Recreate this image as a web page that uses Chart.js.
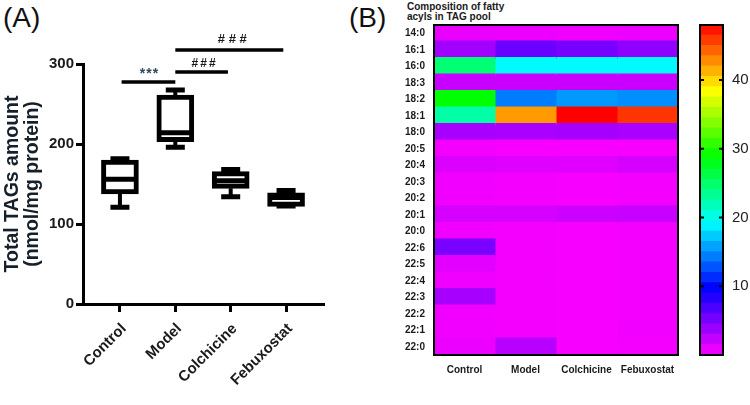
<!DOCTYPE html>
<html>
<head>
<meta charset="utf-8">
<script src="https://cdn.jsdelivr.net/npm/chart.js@4.4.1/dist/chart.umd.min.js"></script>
<style>
body { margin: 0; background: #fff; width: 750px; height: 405px; overflow: hidden; position: relative;
       font-family: "Liberation Sans", Arial, sans-serif; }
.wrap { position: absolute; }
.panel { position: absolute; font-size: 28px; line-height: 28px; color: #111; }
#heatTitle { position: absolute; left: 407px; top: 2px; font-size: 10px; line-height: 10px; font-weight: bold; color: #1a1a1a; }
</style>
</head>
<body>
<div class="panel" style="left:3px;top:4px">(A)</div>
<div class="panel" style="left:349px;top:4px">(B)</div>
<div id="heatTitle">Composition of fatty<br>acyls in TAG pool</div>
<div class="wrap" style="left:0;top:0;width:375px;height:405px"><canvas id="tag-box"></canvas></div>
<div class="wrap" style="left:385px;top:0;width:305px;height:405px"><canvas id="tag-heat"></canvas></div>
<div class="wrap" style="left:690px;top:0;width:60px;height:405px"><canvas id="tag-bar"></canvas></div>
<script>
// groups
const groups = ['Control', 'Model', 'Colchicine', 'Febuxostat'];

// (A) total TAGs, nmol/mg protein
const tagMin    = [121, 196, 134, 122.5];
const tagQ1     = [137.5, 203, 144.6, 122];
const tagMedian = [156, 214, 154, 133];
const tagQ3     = [180, 261, 165.4, 139];
const tagMax    = [181.5, 267.5, 168, 142];
const tagTicks  = [0, 100, 200, 300];

// significance brackets
const sigText  = ['***', '###', '# # #'];
const sigFrom  = [0.03, 1, 1];
const sigTo    = [1, 1.95, 2.95];
const sigLevel = [277.5, 290, 317.5];

// (B) fatty acyl composition (%)
const fattyAcyls = ['14:0', '16:1', '16:0', '18:3', '18:2', '18:1', '18:0', '20:5', '20:4', '20:3',
                    '20:2', '20:1', '20:0', '22:6', '22:5', '22:4', '22:3', '22:2', '22:1', '22:0'];
const heatControl    = [0.8, 3.5, 24.5, 2.1, 28.8, 22.5, 3.3, 0.4, 1.3, 0.5, 0.5, 1.6, 0.5, 5.0, 1.0, 0.6, 3.3, 0.5, 0.5, 0.7];
const heatModel      = [0.7, 5.6, 19.0, 2.0, 14.3, 42.2, 3.2, 0.3, 1.2, 0.4, 0.4, 1.6, 0.4, 0.4, 0.4, 0.4, 0.4, 0.4, 0.4, 2.7];
const heatColchicine = [0.6, 5.1, 19.0, 2.0, 15.4, 48.0, 3.4, 0.3, 1.2, 0.3, 0.3, 1.9, 0.3, 0.3, 0.3, 0.3, 0.3, 0.3, 0.3, 0.3];
const heatFebuxostat = [0.7, 4.2, 19.0, 2.0, 15.0, 46.0, 3.2, 0.3, 1.6, 0.4, 0.4, 2.1, 0.4, 0.4, 0.4, 0.4, 0.4, 0.4, 0.5, 0.4];
const heatValues = [heatControl, heatModel, heatColchicine, heatFebuxostat];

// colour scale
const cbMax = 48;
const cbStep = 1.5;
const cbTicks = [10, 20, 30, 40];

Chart.defaults.font.family = '"Liberation Sans", Arial, sans-serif';
Chart.defaults.animation = false;

// magenta (0) -> blue -> cyan -> green -> yellow -> red (48)
function heatColor(v) {
    const h = Math.max(0, Math.min(300, 300 - v * 6.25));
    return 'hsl(' + h + ',100%,50%)';
}

const frame = {
    id: 'frame',
    afterDraw(chart) {
        const a = chart.chartArea, ctx = chart.ctx;
        ctx.save();
        ctx.strokeStyle = '#000';
        ctx.lineWidth = 2;
        ctx.strokeRect(a.left, a.top, a.right - a.left, a.bottom - a.top);
        ctx.restore();
    }
};

//box plot
const boxParts = {
    id: 'boxParts',
    beforeDatasetsDraw(chart) {
        const {ctx, scales: {x, y}} = chart;
        ctx.save();
        ctx.strokeStyle = '#000';
        groups.forEach((g, i) => {
            const px = x.getPixelForValue(i);
            ctx.lineWidth = 4;
            ctx.beginPath();
            ctx.moveTo(px, y.getPixelForValue(tagMax[i]));
            ctx.lineTo(px, y.getPixelForValue(tagQ3[i]));
            ctx.moveTo(px, y.getPixelForValue(tagQ1[i]));
            ctx.lineTo(px, y.getPixelForValue(tagMin[i]));
            ctx.stroke();
            ctx.lineWidth = 5;
            ctx.beginPath();
            [tagMax[i], tagMin[i]].forEach(v => {
                const py = y.getPixelForValue(v);
                ctx.moveTo(px - 9.5, py);
                ctx.lineTo(px + 9.5, py);
            });
            ctx.stroke();
        });
        ctx.restore();
    },
    afterDatasetsDraw(chart) {
        const {ctx, scales: {x, y}} = chart;
        ctx.save();
        ctx.strokeStyle = '#000';
        ctx.lineWidth = 5;
        ctx.beginPath();
        groups.forEach((g, i) => {
            const px = x.getPixelForValue(i);
            const py = y.getPixelForValue(tagMedian[i]);
            ctx.moveTo(px - 17, py);
            ctx.lineTo(px + 17, py);
        });
        ctx.stroke();
        // labels over the brackets
        ctx.textAlign = 'center';
        ctx.textBaseline = 'alphabetic';
        sigText.forEach((t, k) => {
            const px = x.getPixelForValue((sigFrom[k] + sigTo[k]) / 2);
            const py = y.getPixelForValue(sigLevel[k]);
            if (t === '***') {
                ctx.font = 'bold 14px "Liberation Sans", Arial, sans-serif';
                ctx.fillStyle = '#2f4a5f';
                ctx.letterSpacing = '1px';
                ctx.fillText(t, px + 1, py - 4);
            } else if (t === '###') {
                ctx.font = 'bold 12px "Liberation Sans", Arial, sans-serif';
                ctx.fillStyle = '#1a1a1a';
                ctx.letterSpacing = '2px';
                ctx.fillText(t, px + 3, py - 5);
            } else {
                ctx.font = 'bold 13px "Liberation Sans", Arial, sans-serif';
                ctx.fillStyle = '#1a1a1a';
                ctx.letterSpacing = '0px';
                ctx.fillText(t, px + 3, py - 7);
            }
        });
        ctx.restore();
    }
};

var a1 = document.getElementById('tag-box').getContext('2d');
const a1_1 = new Chart(a1, {
    type: 'bar',
    data: {
        datasets: [{
            label: 'TAGs',
            data: groups.map((g, i) => ({x: i, y: [tagQ1[i], tagQ3[i]]})),
            backgroundColor: '#fff',
            borderColor: '#000',
            borderWidth: 5,
            borderSkipped: false,
            barThickness: 37
        }].concat(sigText.map((t, k) => ({
            type: 'line',
            label: t,
            data: [{x: sigFrom[k], y: sigLevel[k]}, {x: sigTo[k], y: sigLevel[k]}],
            borderColor: '#000',
            borderWidth: 3.5,
            pointRadius: 0,
            clip: false
        })))
    },
    options: {
        responsive: true,
        maintainAspectRatio: false,
        layout: {padding: {left: 2, right: 52, top: 64, bottom: 0}},
        plugins: {legend: {display: false}, tooltip: {enabled: false}},
        scales: {
            x: {
                type: 'linear',
                min: -0.667,
                max: 3.667,
                offset: false,
                afterBuildTicks: s => { s.ticks = groups.map((g, i) => ({value: i})); },
                afterFit: s => { s.height = 101; },
                ticks: {
                    callback: v => groups[v],
                    autoSkip: false,
                    minRotation: 45,
                    maxRotation: 45,
                    padding: 8,
                    labelOffset: 4,
                    color: '#1a1a1a',
                    font: {size: 15, weight: 'bold'}
                },
                grid: {drawOnChartArea: false, drawTicks: true, tickLength: 8, lineWidth: 3, color: '#000', offset: false},
                border: {width: 3, color: '#000'}
            },
            y: {
                min: 0,
                max: 300,
                afterBuildTicks: s => { s.ticks = tagTicks.map(v => ({value: v})); },
                afterFit: s => { s.width = 81; },
                ticks: {padding: 2, color: '#1a1a1a', font: {size: 15, weight: 'bold'}},
                grid: {drawOnChartArea: false, drawTicks: true, tickLength: 7, lineWidth: 3, color: '#000'},
                border: {width: 3, color: '#000'},
                title: {
                    display: true,
                    text: ['Total TAGs amount', '(nmol/mg protein)'],
                    color: '#15202b',
                    padding: {top: 1, bottom: 0},
                    font: {size: 19.5, weight: 'bold', lineHeight: 1.0}
                }
            }
        }
    },
    plugins: [boxParts]
});

//heatmap
var b1 = document.getElementById('tag-heat').getContext('2d');
const b1_1 = new Chart(b1, {
    type: 'bar',
    data: {
        labels: fattyAcyls,
        datasets: groups.map((g, j) => ({
            label: g,
            data: fattyAcyls.map(() => [j, j + 1]),
            backgroundColor: heatValues[j].map(heatColor),
            grouped: false,
            barThickness: 17.5,
            borderWidth: 0,
            inflateAmount: 0.5
        }))
    },
    options: {
        indexAxis: 'y',
        responsive: true,
        maintainAspectRatio: false,
        layout: {padding: {left: 0, right: 12, top: 25, bottom: 0}},
        plugins: {legend: {display: false}, tooltip: {enabled: false}},
        scales: {
            x: {
                type: 'linear',
                min: 0,
                max: 4,
                afterBuildTicks: s => { s.ticks = groups.map((g, i) => ({value: i + 0.5})); },
                afterFit: s => { s.height = 50; },
                ticks: {
                    callback: v => groups[Math.floor(v)],
                    autoSkip: false,
                    maxRotation: 0,
                    padding: 9,
                    color: '#1a1a1a',
                    font: {size: 10, weight: 'bold'}
                },
                grid: {display: false, drawTicks: false},
                border: {display: false}
            },
            y: {
                afterFit: s => { s.width = 49; },
                ticks: {padding: 9, color: '#1a1a1a', font: {size: 10, weight: 'bold'}},
                grid: {display: false, drawTicks: false},
                border: {display: false}
            }
        }
    },
    plugins: [frame]
});

//colour bar
const cbBands = [];
for (let v = 0; v < cbMax; v += cbStep) cbBands.push([v, v + cbStep]);

const innerTicks = {
    id: 'innerTicks',
    afterDraw(chart) {
        const {ctx, chartArea: a, scales: {y}} = chart;
        ctx.save();
        ctx.strokeStyle = '#000';
        ctx.lineWidth = 2;
        ctx.beginPath();
        y.ticks.forEach(t => {
            const py = y.getPixelForValue(t.value);
            ctx.moveTo(a.left, py); ctx.lineTo(a.left + 4, py);
            ctx.moveTo(a.right - 4, py); ctx.lineTo(a.right, py);
        });
        ctx.stroke();
        ctx.restore();
    }
};

var c1 = document.getElementById('tag-bar').getContext('2d');
const c1_1 = new Chart(c1, {
    type: 'bar',
    data: {
        labels: [''],
        datasets: cbBands.map(b => ({
            data: [b],
            backgroundColor: heatColor((b[0] + b[1]) / 2),
            grouped: false,
            barPercentage: 1,
            categoryPercentage: 1,
            borderWidth: 0,
            inflateAmount: 0.6
        }))
    },
    options: {
        responsive: true,
        maintainAspectRatio: false,
        layout: {padding: {left: 10, right: 0, top: 25, bottom: 50}},
        plugins: {legend: {display: false}, tooltip: {enabled: false}},
        scales: {
            x: {display: false},
            y: {
                position: 'right',
                min: 0,
                max: cbMax,
                afterBuildTicks: s => { s.ticks = cbTicks.map(v => ({value: v})); },
                afterFit: s => { s.width = 27; },
                ticks: {padding: 9, color: '#222', font: {size: 15}},
                grid: {display: false, drawTicks: false},
                border: {display: false}
            }
        }
    },
    plugins: [frame, innerTicks]
});
</script>
</body>
</html>
